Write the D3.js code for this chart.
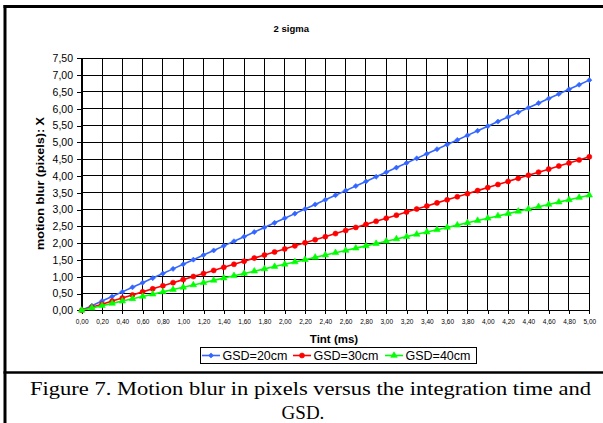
<!DOCTYPE html>
<html><head><meta charset="utf-8">
<script src="https://cdn.jsdelivr.net/npm/d3@7"></script>
<style>body{margin:0;background:#fff}svg{display:block}</style>
</head><body><svg id="c" width="603" height="423"></svg>
<script>
const tint = [0.0,0.1,0.2,0.3,0.4,0.5,0.6,0.7,0.8,0.9,1.0,1.1,1.2,1.3,1.4,1.5,1.6,1.7,1.8,1.9,2.0,2.1,2.2,2.3,2.4,2.5,2.6,2.7,2.8,2.9,3.0,3.1,3.2,3.3,3.4,3.5,3.6,3.7,3.8,3.9,4.0,4.1,4.2,4.3,4.4,4.5,4.6,4.7,4.8,4.9,5.0];
const gsd20 = [0,0.137,0.274,0.411,0.548,0.685,0.822,0.959,1.096,1.233,1.370,1.507,1.644,1.781,1.918,2.055,2.192,2.329,2.466,2.603,2.740,2.877,3.014,3.151,3.288,3.425,3.562,3.699,3.836,3.973,4.110,4.247,4.384,4.521,4.658,4.795,4.932,5.069,5.206,5.343,5.480,5.617,5.754,5.891,6.028,6.165,6.302,6.439,6.576,6.713,6.850];
const gsd30 = [0,0.091,0.183,0.274,0.365,0.457,0.548,0.639,0.731,0.822,0.913,1.005,1.096,1.187,1.279,1.370,1.461,1.553,1.644,1.735,1.827,1.918,2.009,2.101,2.192,2.283,2.375,2.466,2.557,2.649,2.740,2.831,2.923,3.014,3.105,3.197,3.288,3.379,3.471,3.562,3.653,3.745,3.836,3.927,4.019,4.110,4.201,4.293,4.384,4.475,4.567];
const gsd40 = [0,0.069,0.137,0.206,0.274,0.343,0.411,0.480,0.548,0.617,0.685,0.754,0.822,0.891,0.959,1.028,1.096,1.165,1.233,1.302,1.370,1.439,1.507,1.576,1.644,1.713,1.781,1.850,1.918,1.987,2.055,2.124,2.192,2.261,2.329,2.398,2.466,2.535,2.603,2.672,2.740,2.809,2.877,2.946,3.014,3.083,3.151,3.220,3.288,3.357,3.425];
const seriesNames = ["GSD=20cm","GSD=30cm","GSD=40cm"];
const yTicks = [0,0.5,1.0,1.5,2.0,2.5,3.0,3.5,4.0,4.5,5.0,5.5,6.0,6.5,7.0,7.5];
const xTicks = [0,0.2,0.4,0.6,0.8,1.0,1.2,1.4,1.6,1.8,2.0,2.2,2.4,2.6,2.8,3.0,3.2,3.4,3.6,3.8,4.0,4.2,4.4,4.6,4.8,5.0];
const chartTitle = "2 sigma";
const xTitle = "Tint (ms)";
const yTitle = "motion blur (pixels): X";
const caption1 = "Figure 7. Motion blur in pixels versus the integration time and";
const caption2 = "GSD.";

const svg = d3.select("#c");
const m = {l:81.7, r:589.3, t:58.3, b:310.3};
const x = d3.scaleLinear().domain([0,5]).range([m.l, m.r]);
const y = d3.scaleLinear().domain([0,7.5]).range([m.b, m.t]);
const loc = d3.formatLocale({decimal:",", thousands:".", grouping:[3], currency:["",""]});
const fmt = loc.format(".2f");
const sans = "'Liberation Sans', Arial, sans-serif";
const serif = "'Liberation Serif', 'Times New Roman', serif";

// frame
svg.append("line").attr("x1",3.5).attr("x2",603).attr("y1",6.5).attr("y2",6.5).attr("stroke","#000").attr("stroke-width",3);
svg.append("line").attr("x1",5).attr("x2",5).attr("y1",5).attr("y2",423).attr("stroke","#000").attr("stroke-width",3);
svg.append("line").attr("x1",3.5).attr("x2",603).attr("y1",372.5).attr("y2",372.5).attr("stroke","#000").attr("stroke-width",2.5);

// gridlines
const grid = svg.append("g").attr("stroke","#000").attr("stroke-width",1).attr("shape-rendering","crispEdges");
grid.selectAll("line.h").data(yTicks).join("line").attr("class","h")
  .attr("x1",m.l).attr("x2",m.r).attr("y1",d=>y(d)).attr("y2",d=>y(d));
grid.selectAll("line.v").data(xTicks).join("line").attr("class","v")
  .attr("x1",d=>x(d)).attr("x2",d=>x(d)).attr("y1",m.t).attr("y2",m.b);

// axes
const ya = svg.append("g").attr("transform",`translate(${m.l},0)`).attr("shape-rendering","crispEdges")
  .call(d3.axisLeft(y).tickValues(yTicks).tickSize(5).tickSizeOuter(0).tickPadding(3.7).tickFormat(fmt));
ya.selectAll("text").attr("font-family",sans).attr("font-size","10.5px").attr("fill","#000");
ya.selectAll("line,path").attr("stroke","#000");

const xa = svg.append("g").attr("transform",`translate(0,${m.b})`).attr("shape-rendering","crispEdges")
  .call(d3.axisBottom(x).tickValues(xTicks).tickSize(4).tickSizeOuter(0).tickPadding(5.4).tickFormat(fmt));
xa.selectAll("text").attr("font-family",sans).attr("font-size","6.5px").attr("fill","#000");
xa.selectAll("line,path").attr("stroke","#000");

// series
const series = [
  {name:seriesNames[0], vals:gsd20, color:"#3366FF", sym:"diamond"},
  {name:seriesNames[1], vals:gsd30, color:"#FF0000", sym:"circle"},
  {name:seriesNames[2], vals:gsd40, color:"#00FF00", sym:"triangle"}
];
function symPath(s){
  if(s==="diamond") return d3.symbol(d3.symbolSquare, 13)();
  if(s==="circle") return d3.symbol(d3.symbolCircle, 20)();
  return d3.symbol(d3.symbolTriangle, 18)();
}
const line = d3.line().x((d,i)=>x(tint[i])).y(d=>y(d));
series.forEach(s=>{
  const g = svg.append("g");
  g.append("path").attr("d",line(s.vals)).attr("fill","none").attr("stroke",s.color).attr("stroke-width",1.6);
  g.selectAll("path.mk").data(s.vals).join("path").attr("class","mk")
    .attr("d",symPath(s.sym))
    .attr("transform",(d,i)=>`translate(${x(tint[i])},${y(d)})${s.sym==="diamond"?" rotate(45)":""}`)
    .attr("fill",s.color).attr("stroke",s.color).attr("stroke-width",0.6);
});

// titles
svg.append("text").attr("x",291.3).attr("y",31.5).attr("text-anchor","middle")
  .attr("font-family",sans).attr("font-weight","bold").attr("font-size","9.5px").text(chartTitle);
svg.append("text").attr("x",334).attr("y",343).attr("text-anchor","middle")
  .attr("font-family",sans).attr("font-weight","bold").attr("font-size","11.5px").text(xTitle);
svg.append("text").attr("transform","translate(44,183.5) rotate(-90)").attr("text-anchor","middle")
  .attr("font-family",sans).attr("font-weight","bold").attr("font-size","11.5px")
  .attr("textLength",133).attr("lengthAdjust","spacingAndGlyphs").text(yTitle);

// legend
const lg = svg.append("g");
lg.append("rect").attr("x",200.5).attr("y",347.5).attr("width",276).attr("height",16)
  .attr("fill","#fff").attr("stroke","#000").attr("stroke-width",1);
const lx = [202, 293, 385];
series.forEach((s,i)=>{
  const x0 = lx[i];
  lg.append("line").attr("x1",x0).attr("x2",x0+18).attr("y1",355.5).attr("y2",355.5)
    .attr("stroke",s.color).attr("stroke-width",1.6);
  lg.append("path").attr("d",symPath(s.sym))
    .attr("transform",`translate(${x0+9},355.5)${s.sym==="diamond"?" rotate(45)":""}`)
    .attr("fill",s.color).attr("stroke",s.color).attr("stroke-width",0.6);
  lg.append("text").attr("x",x0+20.5).attr("y",360).attr("font-family",sans).attr("font-size","12.5px")
    .attr("fill","#000").text(s.name);
});

// caption
svg.append("text").attr("x",30).attr("y",395).attr("font-family",serif).attr("font-size","19px")
  .attr("textLength",561).attr("lengthAdjust","spacingAndGlyphs").text(caption1);
svg.append("text").attr("x",303).attr("y",418.5).attr("text-anchor","middle").attr("font-family",serif).attr("font-size","19px").text(caption2);
</script></body></html>
